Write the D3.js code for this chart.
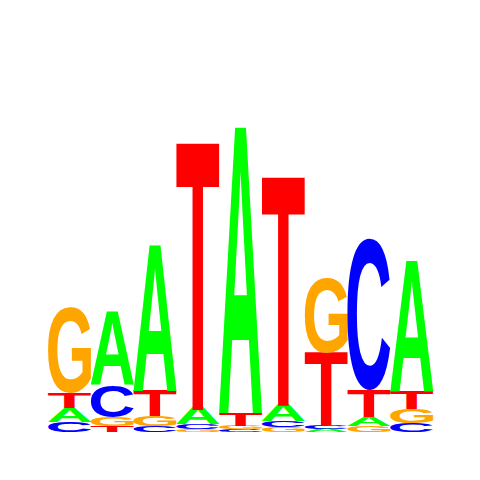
<!DOCTYPE html>
<html>
<head>
<meta charset="utf-8">
<script src="https://cdn.jsdelivr.net/npm/d3@7"></script>
<style>
  html, body { margin: 0; padding: 0; background: #fff; }
</style>
</head>
<body>
<div id="logo"></div>
<script>
// information content (bits) of each base, per position
var positions = [1, 2, 3, 4, 5, 6, 7, 8, 9];
var bitsA = [0.088, 0.456, 0.913, 0.100, 1.788, 0.106, 0.019, 0.056, 0.813];
var bitsC = [0.063, 0.200, 0.038, 0.031, 0.016, 0.038, 0.025, 0.944, 0.056];
var bitsG = [0.538, 0.056, 0.063, 0.019, 0.022, 0.031, 0.469, 0.038, 0.088];
var bitsT = [0.094, 0.038, 0.156, 1.656, 0.081, 1.419, 0.450, 0.169, 0.113];

var bases = ['A', 'C', 'G', 'T'];
var baseColors = ['#00ff00', '#0000ff', '#ffa500', '#ff0000'];

drawLogo();

// ink bounds of a glyph, found by scanning the pixels of a canvas
function glyphInk(ch, font, size) {
    var c = document.createElement('canvas');
    c.width = size * 2;
    c.height = size * 2;
    var ctx = c.getContext('2d');
    ctx.font = font;
    ctx.fillStyle = '#000';
    var ox = size / 2, oy = size * 1.5;
    ctx.fillText(ch, ox, oy);
    var px = ctx.getImageData(0, 0, c.width, c.height).data;
    var x0 = c.width, x1 = 0, y0 = c.height, y1 = 0;
    for (var j = 0; j < c.height; j++) {
        for (var i = 0; i < c.width; i++) {
            if (px[(j * c.width + i) * 4 + 3] > 127) {
                if (i < x0) x0 = i;
                if (i > x1) x1 = i;
                if (j < y0) y0 = j;
                if (j > y1) y1 = j;
            }
        }
    }
    return { left: ox - x0, right: x1 + 1 - ox, ascent: oy - y0, descent: y1 + 1 - oy };
}

function drawLogo() {
    var width = 480,
        height = 480,
        margin = { left: 48, top: 112, bottom: 48, right: 47 };

    var svg = d3.select('#logo')
        .append('svg')
        .attr('width', width)
        .attr('height', height);

    var x = d3.scaleBand()
        .domain(positions)
        .range([margin.left, width - margin.right])
        .padding(0);

    var y = d3.scaleLinear()
        .domain([0, 2])
        .range([height - margin.bottom, margin.top]);

    var color = d3.scaleOrdinal().domain(bases).range(baseColors);

    var fontSize = 200,
        font = 'bold ' + fontSize + 'px "Liberation Sans", Arial, sans-serif';
    var ink = {};
    bases.forEach(function(b) { ink[b] = glyphInk(b, font, fontSize); });

    var table = { A: bitsA, C: bitsC, G: bitsG, T: bitsT };

    // stack smallest letter at the bottom
    var letters = [];
    positions.forEach(function(p, i) {
        var col = bases.map(function(b) { return { base: b, pos: p, bits: table[b][i] }; })
            .sort(function(a, b) { return a.bits - b.bits; });
        var acc = 0;
        col.forEach(function(d) {
            d.y0 = acc;
            acc += d.bits;
            d.y1 = acc;
            letters.push(d);
        });
    });

    // each glyph is stretched so its ink fills the cell
    svg.append('g')
        .selectAll('text')
        .data(letters)
        .enter()
        .append('text')
        .text(function(d) { return d.base; })
        .attr('fill', function(d) { return color(d.base); })
        .style('font', font)
        .attr('transform', function(d) {
            var g = ink[d.base];
            var w = x.bandwidth(),
                h = y(d.y0) - y(d.y1);
            var sx = w / (g.left + g.right),
                sy = h / (g.ascent + g.descent);
            var tx = x(d.pos) + g.left * sx,
                ty = y(d.y1) + g.ascent * sy;
            return 'translate(' + tx + ',' + ty + ') scale(' + sx + ',' + sy + ')';
        });
}
</script>
</body>
</html>
